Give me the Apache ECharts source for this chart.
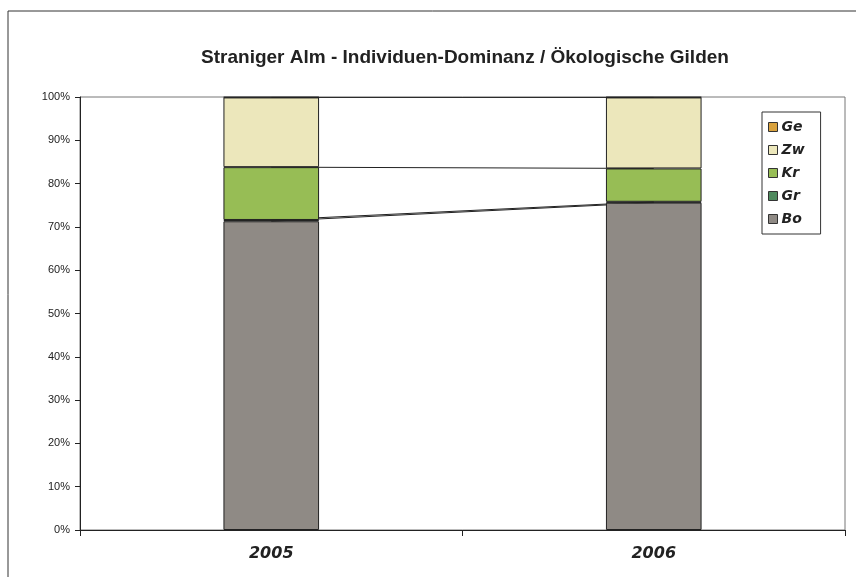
<!DOCTYPE html>
<html lang="de">
<head>
    <meta charset="UTF-8">
    <title>Straniger Alm</title>
</head>
<body>
<div id="main"></div>
</body>

<style type="text/css" media="screen">
    html, body {
        width: 100%;
        height: 100%;
        overflow: hidden;
        margin: 0;
        background: #fff;
    }

    #main {
        width: 856px;
        height: 577px;
    }
</style>
<script src="https://cdn.jsdelivr.net/npm/echarts@6/dist/echarts.min.js"></script>
<script>
    var years = ['2005', '2006'];
    // Anteile in Prozent, von unten nach oben gestapelt
    var bo = [71.3, 75.6];
    var gr = [0.3, 0.2];
    var kr = [12.2, 7.7];
    var zw = [16.1, 16.4];
    var ge = [0.1, 0.1];
    var legendOrder = ['Ge', 'Zw', 'Kr', 'Gr', 'Bo'];

    var colors = {
        Bo: '#8f8a85',
        Gr: '#4f8a5e',
        Kr: '#97bd55',
        Zw: '#ece7bb',
        Ge: '#d9a23e'
    };

    var myChart = echarts.init(document.getElementById('main'));

    function barSeries(name, data) {
        return {
            name: name,
            type: 'bar',
            stack: 'guild',
            barWidth: '25%',
            z: 3,
            data: data,
            itemStyle: {
                color: colors[name],
                borderColor: '#222',
                borderWidth: 1
            }
        };
    }

    // Excel-Verbindungslinien zwischen den Säulen
    function seriesLine(data) {
        return {
            type: 'line',
            stack: 'lines',
            data: data,
            symbol: 'none',
            silent: true,
            z: 1,
            lineStyle: {color: '#222', width: 1}
        };
    }

    var option = {
        animation: false,
        graphic: [{
            type: 'rect',
            shape: {x: 8, y: 11, width: 860, height: 580},
            style: {fill: 'none', stroke: '#333', lineWidth: 1}
        }],
        title: {
            text: 'Straniger Alm - Individuen-Dominanz / Ökologische Gilden',
            left: 460,
            top: 43,
            textAlign: 'center',
            textStyle: {
                fontFamily: 'Liberation Sans, Arial, sans-serif',
                fontSize: 19,
                fontWeight: 'bold',
                color: '#222'
            }
        },
        legend: {
            data: legendOrder,
            orient: 'vertical',
            left: 762,
            top: 112,
            padding: [8, 16, 8, 6],
            itemGap: 9,
            itemWidth: 9,
            itemHeight: 9,
            icon: 'rect',
            borderColor: '#333',
            borderWidth: 1,
            itemStyle: {borderColor: '#333', borderWidth: 1},
            textStyle: {
                fontFamily: 'DejaVu Sans, Verdana, sans-serif',
                fontSize: 14,
                fontWeight: 'bold',
                fontStyle: 'italic',
                color: '#222',
                lineHeight: 14,
                padding: [0, 0, 0, -1]
            }
        },
        grid: {
            left: 80,
            right: 11,
            top: 97,
            bottom: 47,
            show: true,
            borderColor: '#777',
            borderWidth: 1
        },
        xAxis: {
            type: 'category',
            data: years,
            axisLine: {lineStyle: {color: '#222', width: 1}},
            axisTick: {show: true, length: 6, lineStyle: {color: '#222'}},
            axisLabel: {
                margin: 16,
                fontFamily: 'DejaVu Sans, Verdana, sans-serif',
                fontSize: 16,
                fontWeight: 'bold',
                fontStyle: 'italic',
                color: '#222'
            }
        },
        yAxis: {
            type: 'value',
            min: 0,
            max: 100,
            interval: 10,
            splitLine: {show: false},
            axisLine: {show: true, lineStyle: {color: '#222', width: 1}},
            axisTick: {show: true, length: 5, lineStyle: {color: '#222'}},
            axisLabel: {
                formatter: '{value}%',
                margin: 10,
                fontFamily: 'Liberation Sans, Arial, sans-serif',
                fontSize: 11,
                color: '#222'
            }
        },
        series: [
            barSeries('Bo', bo),
            barSeries('Gr', gr),
            barSeries('Kr', kr),
            barSeries('Zw', zw),
            barSeries('Ge', ge),
            seriesLine(bo),
            seriesLine(gr),
            seriesLine(kr),
            seriesLine(zw)
        ]
    };

    myChart.setOption(option);
</script>
</html>
